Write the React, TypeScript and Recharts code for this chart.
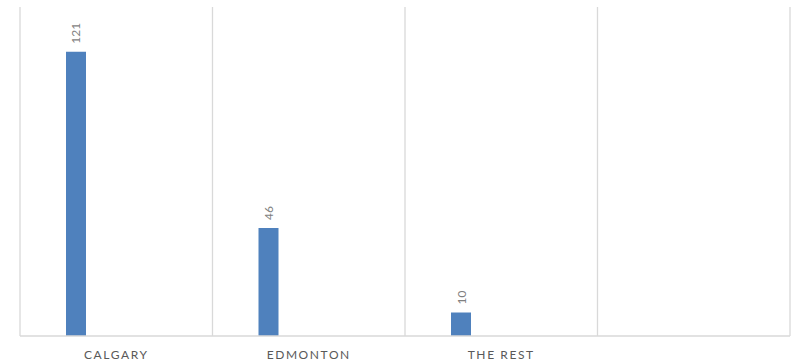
import React from 'react';
import { BarChart, Bar, XAxis, YAxis, CartesianGrid, LabelList } from 'recharts';

const categories = ['CALGARY', 'EDMONTON', 'THE REST', ''];
const counts = [121, 46, 10, null];
// the source chart reserves room for more series per group; they are empty
const emptySeries = ['s2', 's3', 's4', 's5'];

const data = categories.map((name, i) => {
  const row: { [key: string]: string | number | null } = { name, count: counts[i] };
  emptySeries.forEach(k => { row[k] = null; });
  return row;
});

const GRID = '#d9d9d9';
const TEXT = '#595959';
const FONT = 'Lato, "Open Sans", sans-serif';

const RotatedLabel = (props: any) => {
  const { x, y, width, value } = props;
  if (value == null) return null;
  const cx = x + width / 2;
  const ty = y - 8;
  return (
    <text
      x={cx}
      y={ty}
      transform={`rotate(-90, ${cx}, ${ty})`}
      textAnchor="start"
      dominantBaseline="central"
      fill="#7f7f7f"
      fontSize={12}
      fontFamily={FONT}
    >
      {value}
    </text>
  );
};

const App: React.FC = () => {
  return (
    <div style={{ position: 'absolute', left: 0, top: 0, width: 792, height: 361, background: '#fff' }}>
      <BarChart
        width={792}
        height={361}
        data={data}
        margin={{ top: 7, right: 2, left: 20, bottom: 0 }}
        barCategoryGap={46}
        barGap={0}
      >
        <CartesianGrid
          horizontal={false}
          stroke={GRID}
          strokeWidth={1.3}
          verticalCoordinatesGenerator={({ offset }: any) =>
            categories.map((_, i) => offset.left + (i * offset.width) / categories.length).concat(offset.left + offset.width)
          }
        />
        <XAxis
          dataKey="name"
          height={25}
          axisLine={{ stroke: GRID, strokeWidth: 1.3 }}
          tickLine={false}
          interval={0}
          tick={{ fill: TEXT, fontSize: 12, fontFamily: FONT, letterSpacing: 1.6 }}
          tickMargin={8}
        />
        <YAxis hide domain={[0, 140]} />
        <Bar dataKey="count" fill="#4f81bd" isAnimationActive={false}>
          <LabelList dataKey="count" content={RotatedLabel} />
        </Bar>
        {emptySeries.map(k => (
          <Bar key={k} dataKey={k} fill="#4f81bd" isAnimationActive={false} />
        ))}
      </BarChart>
    </div>
  );
};

export default App;
